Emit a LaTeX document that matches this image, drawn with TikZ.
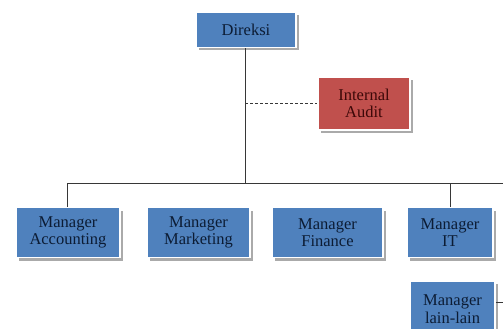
\documentclass[tikz,border=0pt]{standalone}
\usepackage{fontspec}
\setmainfont{Liberation Serif}
\definecolor{boxblue}{RGB}{79,129,189}
\definecolor{boxred}{RGB}{192,80,77}
\definecolor{txtblue}{RGB}{12,28,52}
\definecolor{txtred}{RGB}{60,8,8}
\definecolor{linegray}{RGB}{55,55,55}
\definecolor{shadowgray}{RGB}{170,170,170}
\begin{document}
\begin{tikzpicture}[x=1pt,y=-1pt,
  orgbox/.style={draw=white,line width=1.5pt,fill=boxblue,text=txtblue,
    font=\fontsize{16.5}{17.5}\selectfont,align=center,inner sep=0pt,
    minimum height=50pt,
    preaction={fill=shadowgray,transform canvas={shift={(2.5pt,-3pt)}}}},
  auditbox/.style={orgbox,fill=boxred,text=txtred},
  conn/.style={draw=linegray,line width=0.9pt}]
\useasboundingbox (0,0) rectangle (503,329);
\fill[white] (0,0) rectangle (503,329);
\node[orgbox,minimum width=100pt,minimum height=35pt] (dir) at (246,30) {Direksi};
\node[auditbox,minimum width=92pt,minimum height=53pt] (aud) at (364,103.5) {Internal\\Audit};
\node[orgbox,minimum width=104pt] (acc) at (68,232.5) {Manager\\Accounting};
\node[orgbox,minimum width=103pt] (mkt) at (198.5,232.5) {Manager\\Marketing};
\node[orgbox,minimum width=111pt] (fin) at (327.5,232.5) {Manager\\Finance};
\node[orgbox,minimum width=86pt] (it) at (450,232.5) {Manager\\IT};
\node[orgbox,minimum width=85pt,minimum height=56pt] (lain) at (452.5,309) {Manager\\lain-lain};
\coordinate (hbar) at (245,183);
\coordinate (hleft) at (67,183);
\coordinate (hright) at (506,183);
\coordinate (dashj) at (245,103.5);
\coordinate (lainr) at (506,302);
\draw[conn] (dir.south -| hbar) -- (hbar);
\draw[conn] (hleft) -- (hright);
\draw[conn] (hleft) -- (acc.north -| hleft);
\draw[conn] (it.north |- hbar) -- (it.north);
\draw[conn,dashed,dash pattern=on 3pt off 2pt] (dashj) -- (aud.west);
\draw[conn] (lain.east |- lainr) -- (lainr);
\end{tikzpicture}
\end{document}
